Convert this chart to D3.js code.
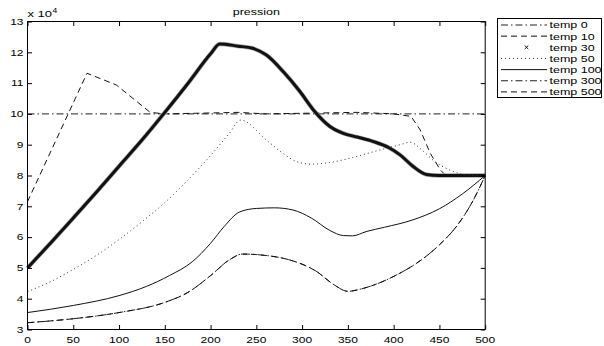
<!DOCTYPE html>
<html>
<head>
<meta charset="utf-8">
<script src="https://cdn.jsdelivr.net/npm/d3@7"></script>
<style>
  html, body { margin: 0; padding: 0; background: #fff; }
  svg { display: block; }
  text { font-family: "Liberation Sans", Arial, Helvetica, sans-serif; fill: #000; }
</style>
</head>
<body>
<svg id="chart" width="604" height="346"></svg>
<script>
// Pressure (x 10^4) along the position axis, one series per temperature
const titleText = "pression";
const xTicks = [0, 50, 100, 150, 200, 250, 300, 350, 400, 450, 500];
const yTicks = [3, 4, 5, 6, 7, 8, 9, 10, 11, 12, 13];

const temp0X = [0, 500];
const temp0Y = [10, 10];

const temp10X = [0, 65, 97, 134, 150, 200, 230, 260, 300, 340, 360, 400, 419, 429, 440, 451, 457, 500];
const temp10Y = [7.15, 11.32, 10.94, 10.05, 10.0, 10.03, 10.05, 10.0, 10.02, 10.04, 10.05, 10.0, 9.92, 9.48, 8.72, 8.18, 8.0, 8.0];

const temp30X = [0, 25, 50, 75, 100, 125, 150, 175, 200, 210, 230, 246, 261, 280, 297, 314, 330, 345, 360, 378, 395, 407, 421, 436, 450, 500];
const temp30Y = [5.0, 5.8, 6.62, 7.45, 8.3, 9.15, 10.05, 10.98, 11.95, 12.27, 12.2, 12.13, 11.91, 11.35, 10.75, 10.07, 9.6, 9.37, 9.25, 9.1, 8.9, 8.67, 8.3, 8.03, 8.0, 8.0];

const temp50X = [0, 25, 50, 75, 100, 125, 150, 175, 200, 220, 233, 261, 280, 294, 310, 330, 352, 385, 407, 418, 430, 443, 461, 480, 500];
const temp50Y = [4.23, 4.55, 4.95, 5.4, 5.92, 6.5, 7.12, 7.85, 8.65, 9.35, 9.8, 9.15, 8.7, 8.45, 8.37, 8.42, 8.56, 8.83, 9.0, 9.08, 8.85, 8.5, 8.18, 8.02, 8.0];

const temp100X = [0, 50, 100, 130, 155, 180, 200, 215, 232, 250, 270, 290, 310, 330, 345, 355, 370, 390, 420, 450, 475, 500];
const temp100Y = [3.55, 3.78, 4.1, 4.4, 4.75, 5.2, 5.8, 6.35, 6.82, 6.93, 6.95, 6.88, 6.62, 6.22, 6.05, 6.04, 6.18, 6.32, 6.55, 6.92, 7.4, 8.0];

const temp300X = [0, 50, 100, 150, 175, 200, 220, 235, 255, 285, 300, 315, 335, 350, 365, 385, 405, 425, 450, 470, 487, 500];
const temp300Y = [3.22, 3.35, 3.55, 3.88, 4.2, 4.75, 5.25, 5.45, 5.42, 5.27, 5.12, 4.9, 4.45, 4.24, 4.32, 4.52, 4.8, 5.15, 5.75, 6.4, 7.2, 8.0];

const temp500X = [0, 50, 100, 150, 175, 200, 220, 235, 255, 285, 300, 315, 335, 350, 365, 385, 405, 425, 450, 470, 487, 500];
const temp500Y = [3.22, 3.35, 3.55, 3.88, 4.2, 4.75, 5.25, 5.45, 5.42, 5.27, 5.12, 4.9, 4.45, 4.24, 4.32, 4.52, 4.8, 5.15, 5.75, 6.4, 7.2, 8.0];

const seriesNames = ["temp 0", "temp 10", "temp 30", "temp 50", "temp 100", "temp 300", "temp 500"];

// line styles, MATLAB-like
const styles = {
  "temp 0":   { dash: "7,3,1.5,3", width: 1, color: "#222" },
  "temp 10":  { dash: "6,4", width: 1, color: "#111" },
  "temp 30":  { dash: null, width: 3, color: "#111", marker: true },
  "temp 50":  { dash: "1,3", width: 1, color: "#333" },
  "temp 100": { dash: null, width: 1, color: "#111" },
  "temp 300": { dash: "7,3,1.5,3", width: 1, color: "#222" },
  "temp 500": { dash: "6,4", width: 1, color: "#111" }
};

const series = [
  { name: "temp 0", xs: temp0X, ys: temp0Y, curve: d3.curveLinear },
  { name: "temp 10", xs: temp10X, ys: temp10Y, curve: d3.curveLinear },
  { name: "temp 30", xs: temp30X, ys: temp30Y, curve: d3.curveMonotoneX },
  { name: "temp 50", xs: temp50X, ys: temp50Y, curve: d3.curveMonotoneX },
  { name: "temp 100", xs: temp100X, ys: temp100Y, curve: d3.curveMonotoneX },
  { name: "temp 300", xs: temp300X, ys: temp300Y, curve: d3.curveMonotoneX },
  { name: "temp 500", xs: temp500X, ys: temp500Y, curve: d3.curveMonotoneX }
];

const svg = d3.select("#chart");
const box = { left: 27.5, right: 485.2, top: 21.5, bottom: 329.5 };
const ySquash = 0.74; // text rendered slightly flattened

const x = d3.scaleLinear().domain([0, 500]).range([box.left, box.right]);
const y = d3.scaleLinear().domain([3, 13]).range([box.bottom, box.top]);

function label(parent, tx, ty, str, size, anchor) {
  return parent.append("text")
    .attr("transform", `translate(${tx},${ty}) scale(1,${ySquash})`)
    .attr("font-size", size)
    .attr("text-anchor", anchor || "start")
    .text(str);
}

// data lines
const lines = svg.append("g");
series.forEach(s => {
  const st = styles[s.name];
  const pts = s.xs.map((v, i) => [v, s.ys[i]]);
  const gen = d3.line().x(d => x(d[0])).y(d => y(d[1])).curve(s.curve);
  if (st.marker) {
    lines.append("path").attr("d", gen(pts))
      .attr("fill", "none").attr("stroke", "#a8a8a8")
      .attr("stroke-width", st.width + 1.3).attr("stroke-linejoin", "round");
  }
  lines.append("path").attr("d", gen(pts))
    .attr("fill", "none").attr("stroke", st.color)
    .attr("stroke-width", st.width)
    .attr("stroke-dasharray", st.dash)
    .attr("stroke-linejoin", "round");
});

// axes: ticks point inward on all four sides
const tickLen = 4.5;
svg.append("g").attr("transform", `translate(0,${box.bottom})`)
  .call(d3.axisBottom(x).tickValues(xTicks).tickSizeInner(-tickLen).tickSizeOuter(0).tickFormat(""));
svg.append("g").attr("transform", `translate(0,${box.top})`)
  .call(d3.axisTop(x).tickValues(xTicks).tickSizeInner(-tickLen).tickSizeOuter(0).tickFormat(""));
svg.append("g").attr("transform", `translate(${box.left},0)`)
  .call(d3.axisLeft(y).tickValues(yTicks).tickSizeInner(-tickLen).tickSizeOuter(0).tickFormat(""));
svg.append("g").attr("transform", `translate(${box.right},0)`)
  .call(d3.axisRight(y).tickValues(yTicks).tickSizeInner(-tickLen).tickSizeOuter(0).tickFormat(""));
svg.selectAll(".domain").remove();
svg.selectAll(".tick line").attr("stroke", "#000");

svg.append("rect")
  .attr("x", box.left).attr("y", box.top)
  .attr("width", box.right - box.left).attr("height", box.bottom - box.top)
  .attr("fill", "none").attr("stroke", "#000").attr("stroke-width", 1);

// tick labels
xTicks.forEach(v => label(svg, x(v), 342.5, String(v), 12, "middle"));
yTicks.forEach(v => label(svg, 23.5, y(v) + 3.2, String(v), 12, "end"));

// exponent note and title
label(svg, 27.5, 16.5, "x 10", 13, "start");
label(svg, 52.5, 12.5, "4", 8.5, "start");
label(svg, (box.left + box.right) / 2, 14.5, titleText, 12.5, "middle");

// legend
const leg = svg.append("g");
const legBox = { x: 497.5, y: 18.5, w: 104, h: 79 };
leg.append("rect")
  .attr("x", legBox.x).attr("y", legBox.y).attr("width", legBox.w).attr("height", legBox.h)
  .attr("fill", "#fff").attr("stroke", "#000").attr("stroke-width", 1);
seriesNames.forEach((name, i) => {
  const st = styles[name];
  const ry = 25 + i * 11.15;
  if (st.marker) {
    const cx = 526.5, r = 1.8;
    leg.append("path")
      .attr("d", `M${cx - r},${ry - r}L${cx + r},${ry + r}M${cx - r},${ry + r}L${cx + r},${ry - r}`)
      .attr("stroke", "#111").attr("stroke-width", 1);
  } else {
    leg.append("line")
      .attr("x1", 501).attr("x2", 547).attr("y1", ry).attr("y2", ry)
      .attr("stroke", st.color).attr("stroke-width", 1)
      .attr("stroke-dasharray", st.dash);
  }
  label(leg, 549.5, ry + 3.4, name, 12.5, "start");
});
</script>
</body>
</html>
